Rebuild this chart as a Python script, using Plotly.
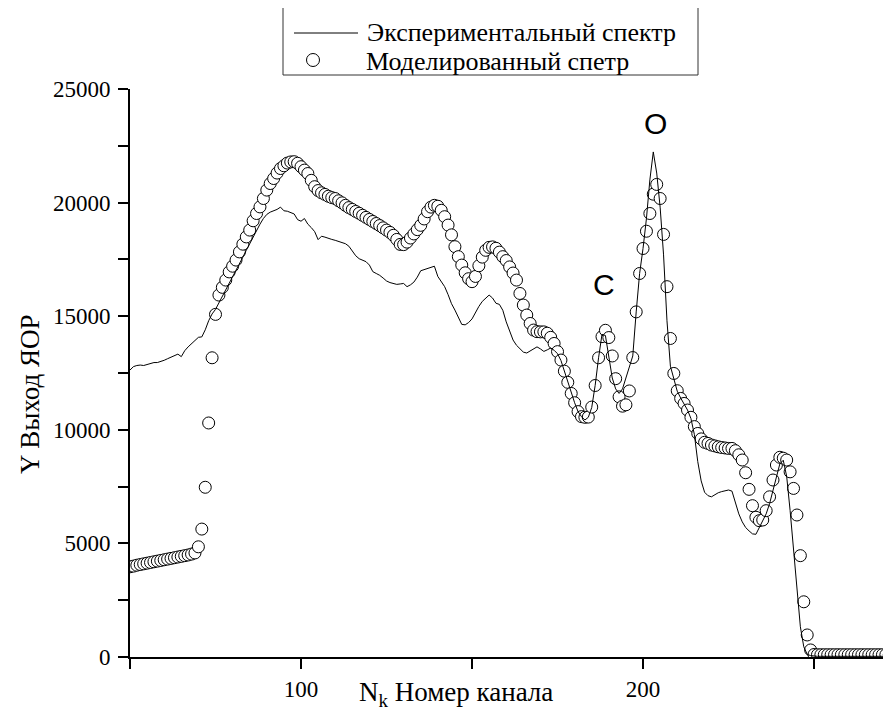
import plotly.graph_objects as go

channels = list(range(50, 274))

experimental = [
    12630, 12780, 12830, 12850, 12830, 12870, 12900, 12960, 12960, 13000,  # 50-59
    13060, 13130, 13190, 13250, 13330, 13220, 13480, 13650, 13800, 13950,  # 60-69
    14070, 14090, 14400, 14800, 15100, 15300, 15580, 15880, 16160, 16420,  # 70-79
    16700, 17000, 17300, 17600, 17900, 18200, 18500, 18800, 19050, 19300,  # 80-89
    19480, 19580, 19640, 19700, 19800, 19640, 19620, 19560, 19500, 19250,  # 90-99
    19180, 19300, 19050, 18900, 18720, 18370, 18520, 18480, 18420, 18380,  # 100-109
    18340, 18290, 18240, 18190, 18080, 17880, 17660, 17530, 17470, 17400,  # 110-119
    17250, 16960, 16880, 16800, 16680, 16550, 16480, 16440, 16400, 16420,  # 120-129
    16440, 16300, 16380, 16500, 16720, 17000, 17050, 17080, 17150, 17200,  # 130-139
    16750, 16550, 16300, 15950, 15550, 15270, 14980, 14640, 14620, 14720,  # 140-149
    14880, 15170, 15430, 15650, 15800, 15930, 15800, 15570, 15520, 15260,  # 150-159
    14750, 14300, 13950, 13720, 13580, 13420, 13380, 13480, 13560, 13650,  # 160-169
    13560, 13450, 13520, 13600, 13500, 13350, 13050, 12580, 12080, 11600,  # 170-179
    11190, 10800, 10580, 10430, 10550, 10980, 11950, 13170, 14200, 14150,  # 180-189
    13250, 12280, 11800, 11600, 11800, 12250, 12800, 13250, 15190, 16880,  # 190-199
    17980, 19300, 21000, 22230, 21300, 19800, 17700, 14800, 12800, 12300,  # 200-209
    11700, 11400, 11150, 10870, 10500, 9800, 8600, 7750, 7250, 7100,       # 210-219
    7050, 7150, 7230, 7280, 7320, 7350, 7300, 6800, 6300, 5950,            # 220-229
    5700, 5550, 5420, 5400, 5700, 6000, 6300, 6750, 7350, 8000,            # 230-239
    8500, 8660, 7950, 6450, 4700, 2950, 1330, 450, 120, 60,                # 240-249
    30, 30, 30, 30, 30, 30, 30, 30, 30, 30,                                # 250-259
    30, 30, 30, 30, 30, 30, 30, 30, 30, 30,                                # 260-269
    30, 30, 30, 30,                                                        # 270-273
]

simulated = [
    3970, 4000, 4040, 4070, 4100, 4130, 4160, 4190, 4220, 4250,            # 50-59
    4280, 4310, 4340, 4370, 4400, 4430, 4460, 4490, 4530, 4580,            # 60-69
    4850, 5630, 7470, 10300, 13170, 15080, 15930, 16270, 16590, 16950,     # 70-79
    17200, 17470, 17830, 18170, 18490, 18790, 19200, 19520, 19810, 20180,  # 80-89
    20550, 20840, 21060, 21300, 21500, 21620, 21740, 21790, 21800, 21730,  # 90-99
    21580, 21430, 21280, 20980, 20700, 20530, 20430, 20360, 20280, 20220,  # 100-109
    20180, 20080, 19990, 19880, 19780, 19700, 19610, 19530, 19440, 19350,  # 110-119
    19260, 19170, 19080, 18990, 18890, 18790, 18690, 18560, 18380, 18160,  # 120-129
    18150, 18260, 18440, 18620, 18810, 19000, 19280, 19600, 19800, 19880,  # 130-139
    19840, 19660, 19380, 19010, 18580, 18060, 17620, 17250, 16910, 16650,  # 140-149
    16520, 16750, 17220, 17600, 17900, 18030, 18050, 17990, 17820, 17620,  # 150-159
    17450, 17170, 16900, 16590, 16000, 15490, 15050, 14680, 14390, 14320,  # 160-169
    14310, 14310, 14250, 14070, 13800, 13440, 13070, 12580, 12090, 11600,  # 170-179
    11190, 10800, 10580, 10550, 10560, 11000, 11950, 13170, 14100, 14380,  # 180-189
    14060, 13250, 12250, 11450, 11040, 11100, 11710, 13180, 15190, 16880,  # 190-199
    17980, 18740, 19520, 20370, 20800, 20180, 18600, 16300, 14020, 12480,  # 200-209
    11720, 11380, 11160, 10870, 10550, 10140, 9840, 9600, 9450, 9400,      # 210-219
    9330, 9290, 9250, 9220, 9200, 9180, 9180, 9080, 8900, 8670,            # 220-229
    8110, 7380, 6660, 6150, 6000, 6030, 6440, 7050, 7790, 8450,            # 230-239
    8790, 8750, 8670, 8150, 7420, 6250, 4460, 2430, 970, 310,              # 240-249
    110, 100, 100, 100, 100, 100, 100, 100, 100, 100,                      # 250-259
    100, 100, 100, 100, 100, 100, 100, 100, 100, 100,                      # 260-269
    100, 100, 100, 100,                                                    # 270-273
]

series_names = ["Экспериментальный спектр", "Моделированный спетр"]
x_title = "N<sub>k</sub> Номер канала"
y_title = "Y Выход ЯОР"
peak_labels = ["C", "O"]
peak_x = [188.6, 203.5]
peak_y = [16400, 23500]

SERIF = "Times New Roman, Liberation Serif, serif"
SANS = "Arial, Liberation Sans, sans-serif"

# plot area in screen pixels: x 130..891, y 89..657
PX0, PX1, PY0, PY1 = 130.0, 891.0, 89.0, 657.0


def px(X):
    return (X - PX0) / (PX1 - PX0)


def py(Y):
    return (PY1 - Y) / (PY1 - PY0)


fig = go.Figure()
fig.add_trace(go.Scatter(
    x=channels, y=simulated, mode="markers", name=series_names[1],
    marker=dict(symbol="circle", size=12, color="white",
                line=dict(color="black", width=1)),
    showlegend=False,
))
fig.add_trace(go.Scatter(
    x=channels, y=experimental, mode="lines", name=series_names[0],
    line=dict(color="black", width=1),
    showlegend=False,
))

for lab, xv, yv in zip(peak_labels, peak_x, peak_y):
    fig.add_annotation(x=xv, y=yv, xref="x", yref="y", text=lab, showarrow=False,
                       font=dict(family=SANS, size=30, color="black"))

# axis titles
fig.add_annotation(x=px(456), y=py(694), xref="paper", yref="paper",
                   text=x_title, showarrow=False,
                   font=dict(family=SERIF, size=27, color="black"),
                   xanchor="center", yanchor="middle")
fig.add_annotation(x=px(30), y=py(394), xref="paper", yref="paper",
                   text=y_title, showarrow=False, textangle=-90,
                   font=dict(family=SERIF, size=27, color="black"),
                   xanchor="center", yanchor="middle")

# legend box (drawn)
fig.add_shape(type="rect", xref="paper", yref="paper",
              x0=px(283), x1=px(698), y0=py(75), y1=py(3),
              line=dict(color="#333333", width=1), fillcolor="white", layer="above")
fig.add_shape(type="line", xref="paper", yref="paper",
              x0=px(294), x1=px(358), y0=py(33), y1=py(33),
              line=dict(color="black", width=1), layer="above")
fig.add_shape(type="circle", xref="paper", yref="paper",
              x0=px(306.5), x1=px(319.5), y0=py(66.5), y1=py(53.5),
              line=dict(color="black", width=1), fillcolor="white", layer="above")
fig.add_annotation(x=px(365), y=py(32), xref="paper", yref="paper",
                   text=series_names[0], showarrow=False,
                   font=dict(family=SERIF, size=26, color="black"),
                   xanchor="left", yanchor="middle")
fig.add_annotation(x=px(364), y=py(61), xref="paper", yref="paper",
                   text=series_names[1], showarrow=False,
                   font=dict(family=SERIF, size=26, color="black"),
                   xanchor="left", yanchor="middle")

fig.update_layout(
    width=883, height=707,
    margin=dict(l=122, r=0, t=81, b=58),
    plot_bgcolor="white", paper_bgcolor="white",
    font=dict(family=SERIF, size=23, color="black"),
    showlegend=False,
    xaxis=dict(range=[50, 272.5], showline=True, linecolor="black", linewidth=2,
               ticks="outside", ticklen=10, tickwidth=2, tickcolor="black",
               tick0=0, dtick=100, tickformat="d",
               tickfont=dict(family=SERIF, size=23, color="black"),
               minor=dict(ticks="outside", ticklen=10, tickwidth=2,
                          tickcolor="black", tick0=0, dtick=50, showgrid=False),
               showgrid=False, zeroline=False, automargin=False),
    yaxis=dict(range=[0, 25000], showline=True, linecolor="black", linewidth=2,
               ticks="outside", ticklen=10, tickwidth=2, tickcolor="black",
               tick0=0, dtick=5000, tickformat="d",
               tickfont=dict(family=SERIF, size=23, color="black"),
               minor=dict(ticks="outside", ticklen=10, tickwidth=2,
                          tickcolor="black", tick0=0, dtick=2500, showgrid=False),
               showgrid=False, zeroline=False, automargin=False,
               ticklabelstandoff=3),
)

fig.write_html("out.html")
